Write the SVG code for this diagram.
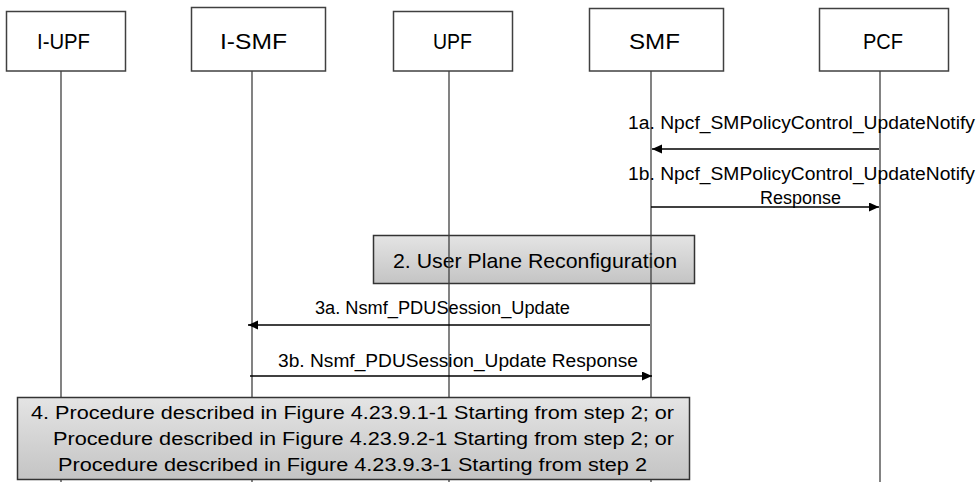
<svg xmlns="http://www.w3.org/2000/svg" width="979" height="482" viewBox="0 0 979 482">
<style>
.box{fill:#ffffff;stroke:#404040;stroke-width:1.5}
.life{stroke:#404040;stroke-width:1.3;fill:none}
.title{font-family:"Liberation Sans",Arial,sans-serif;font-size:22px;fill:#000;text-anchor:start}
.lbl{font-family:"Liberation Sans",Arial,sans-serif;font-size:18px;fill:#000}
.big{font-family:"Liberation Sans",Arial,sans-serif;font-size:21px;fill:#000}
.msg{stroke:#000;stroke-width:1.6;fill:none;marker-end:url(#ah)}
.gbox{fill:url(#g);stroke:#333;stroke-width:1.5}
</style>
<defs>
<marker id="ah" markerUnits="userSpaceOnUse" markerWidth="11" markerHeight="10" refX="10" refY="4.5" orient="auto">
<path d="M0,0 L10,4.5 L0,9 z" fill="#000"/>
</marker>
<linearGradient id="g" x1="0" y1="0" x2="0" y2="1">
<stop offset="0" stop-color="#e4e4e4"/>
<stop offset="1" stop-color="#c4c4c4"/>
</linearGradient>
</defs>

<g id="step2">
<rect class="gbox" x="373.5" y="235.5" width="321" height="48"/>
<text class="big" x="393" y="268" textLength="284" lengthAdjust="spacingAndGlyphs">2. User Plane Reconfiguration</text>
</g>

<g id="I-UPF">
<line class="life" x1="61" y1="71" x2="61" y2="482"/>
<rect class="box" x="6.5" y="11.5" width="119" height="59.5"/>
<text class="title" x="37" y="49" textLength="53" lengthAdjust="spacingAndGlyphs">I-UPF</text>
</g>
<g id="I-SMF">
<line class="life" x1="252" y1="71" x2="252" y2="482"/>
<rect class="box" x="191.5" y="7.5" width="134" height="63.5"/>
<text class="title" x="220" y="49" textLength="67" lengthAdjust="spacingAndGlyphs">I-SMF</text>
</g>
<g id="UPF">
<line class="life" x1="449" y1="71" x2="449" y2="482"/>
<rect class="box" x="393.5" y="11.5" width="119" height="59.5"/>
<text class="title" x="433" y="49" textLength="39" lengthAdjust="spacingAndGlyphs">UPF</text>
</g>
<g id="SMF">
<line class="life" x1="651" y1="71" x2="651" y2="482"/>
<rect class="box" x="589.5" y="8.5" width="134" height="62.5"/>
<text class="title" x="629" y="49" textLength="51" lengthAdjust="spacingAndGlyphs">SMF</text>
</g>
<g id="PCF">
<line class="life" x1="880" y1="71" x2="880" y2="482"/>
<rect class="box" x="819.5" y="8.5" width="129" height="62.5"/>
<text class="title" x="863" y="49" textLength="40" lengthAdjust="spacingAndGlyphs">PCF</text>
</g>

<g id="connectors">
<line class="msg" x1="879" y1="149" x2="652" y2="149"/>
<text class="lbl" x="628" y="129" textLength="347" lengthAdjust="spacingAndGlyphs">1a. Npcf_SMPolicyControl_UpdateNotify</text>
<line class="msg" x1="651" y1="207" x2="879" y2="207"/>
<text class="lbl" x="628" y="180" textLength="347" lengthAdjust="spacingAndGlyphs">1b. Npcf_SMPolicyControl_UpdateNotify</text>
<text class="lbl" x="760" y="204" textLength="81" lengthAdjust="spacingAndGlyphs">Response</text>
<line class="msg" x1="650" y1="325" x2="248" y2="325"/>
<text class="lbl" x="315" y="314" textLength="255" lengthAdjust="spacingAndGlyphs">3a. Nsmf_PDUSession_Update</text>
<line class="msg" x1="250" y1="376" x2="652" y2="376"/>
<text class="lbl" x="278" y="367" textLength="360" lengthAdjust="spacingAndGlyphs">3b. Nsmf_PDUSession_Update Response</text>
</g>

<g id="step4">
<rect class="gbox" x="17.5" y="397.5" width="672" height="82"/>
<text class="lbl" x="31" y="419" textLength="643" lengthAdjust="spacingAndGlyphs">4. Procedure described in Figure 4.23.9.1-1 Starting from step 2; or</text>
<text class="lbl" x="53" y="445" textLength="621" lengthAdjust="spacingAndGlyphs">Procedure described in Figure 4.23.9.2-1 Starting from step 2; or</text>
<text class="lbl" x="58" y="471" textLength="589" lengthAdjust="spacingAndGlyphs">Procedure described in Figure 4.23.9.3-1 Starting from step 2</text>
</g>
</svg>
